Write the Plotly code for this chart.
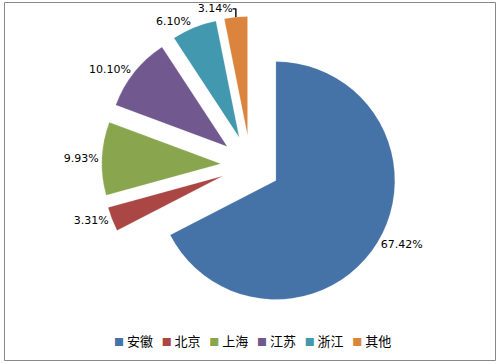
import plotly.graph_objects as go

categories = ["安徽", "北京", "上海", "江苏", "浙江", "其他"]
values = [67.42, 3.31, 9.93, 10.10, 6.10, 3.14]
colors = ["#4572A7", "#AA4643", "#89A54E", "#71588F", "#4198AF", "#DB843D"]

fig = go.Figure()
fig.add_trace(go.Pie(
    labels=categories,
    values=values,
    sort=False,
    direction="clockwise",
    rotation=0,
    pull=[0.25] * len(values),
    marker=dict(colors=colors, line=dict(color="rgba(255,255,255,0.35)", width=0.5)),
    texttemplate="%{value:.2f}%",
    textposition="outside",
    textfont=dict(family="DejaVu Sans", size=11, color="#000000"),
    automargin=False,
    hoverinfo="label+percent",
    domain=dict(x=[0.2, 0.8], y=[0.138, 0.955]),
    showlegend=False,
))

legend_text = "   ".join(
    f"<span style='color:{c};font-size:10px'>■</span> {cat}"
    for cat, c in zip(categories, colors)
)
fig.add_annotation(
    x=0.503, y=1 - 340 / 364, xref="paper", yref="paper",
    xanchor="center", yanchor="middle",
    text=legend_text, showarrow=False,
    font=dict(family="Noto Sans CJK SC", size=13, color="#000000"),
)

fig.add_shape(
    type="rect", xref="paper", yref="paper",
    x0=4.5 / 501, x1=495.5 / 501, y0=1 - 360.5 / 364, y1=1 - 2.5 / 364,
    line=dict(color="#888888", width=1),
)

fig.update_layout(
    width=501, height=364,
    margin=dict(l=0, r=0, t=0, b=0),
    paper_bgcolor="#FFFFFF",
    plot_bgcolor="#FFFFFF",
)

fig.write_html(
    "out.html",
    config={"displayModeBar": False},
    post_script="document.body.style.margin='0';document.body.style.overflow='hidden';",
)
